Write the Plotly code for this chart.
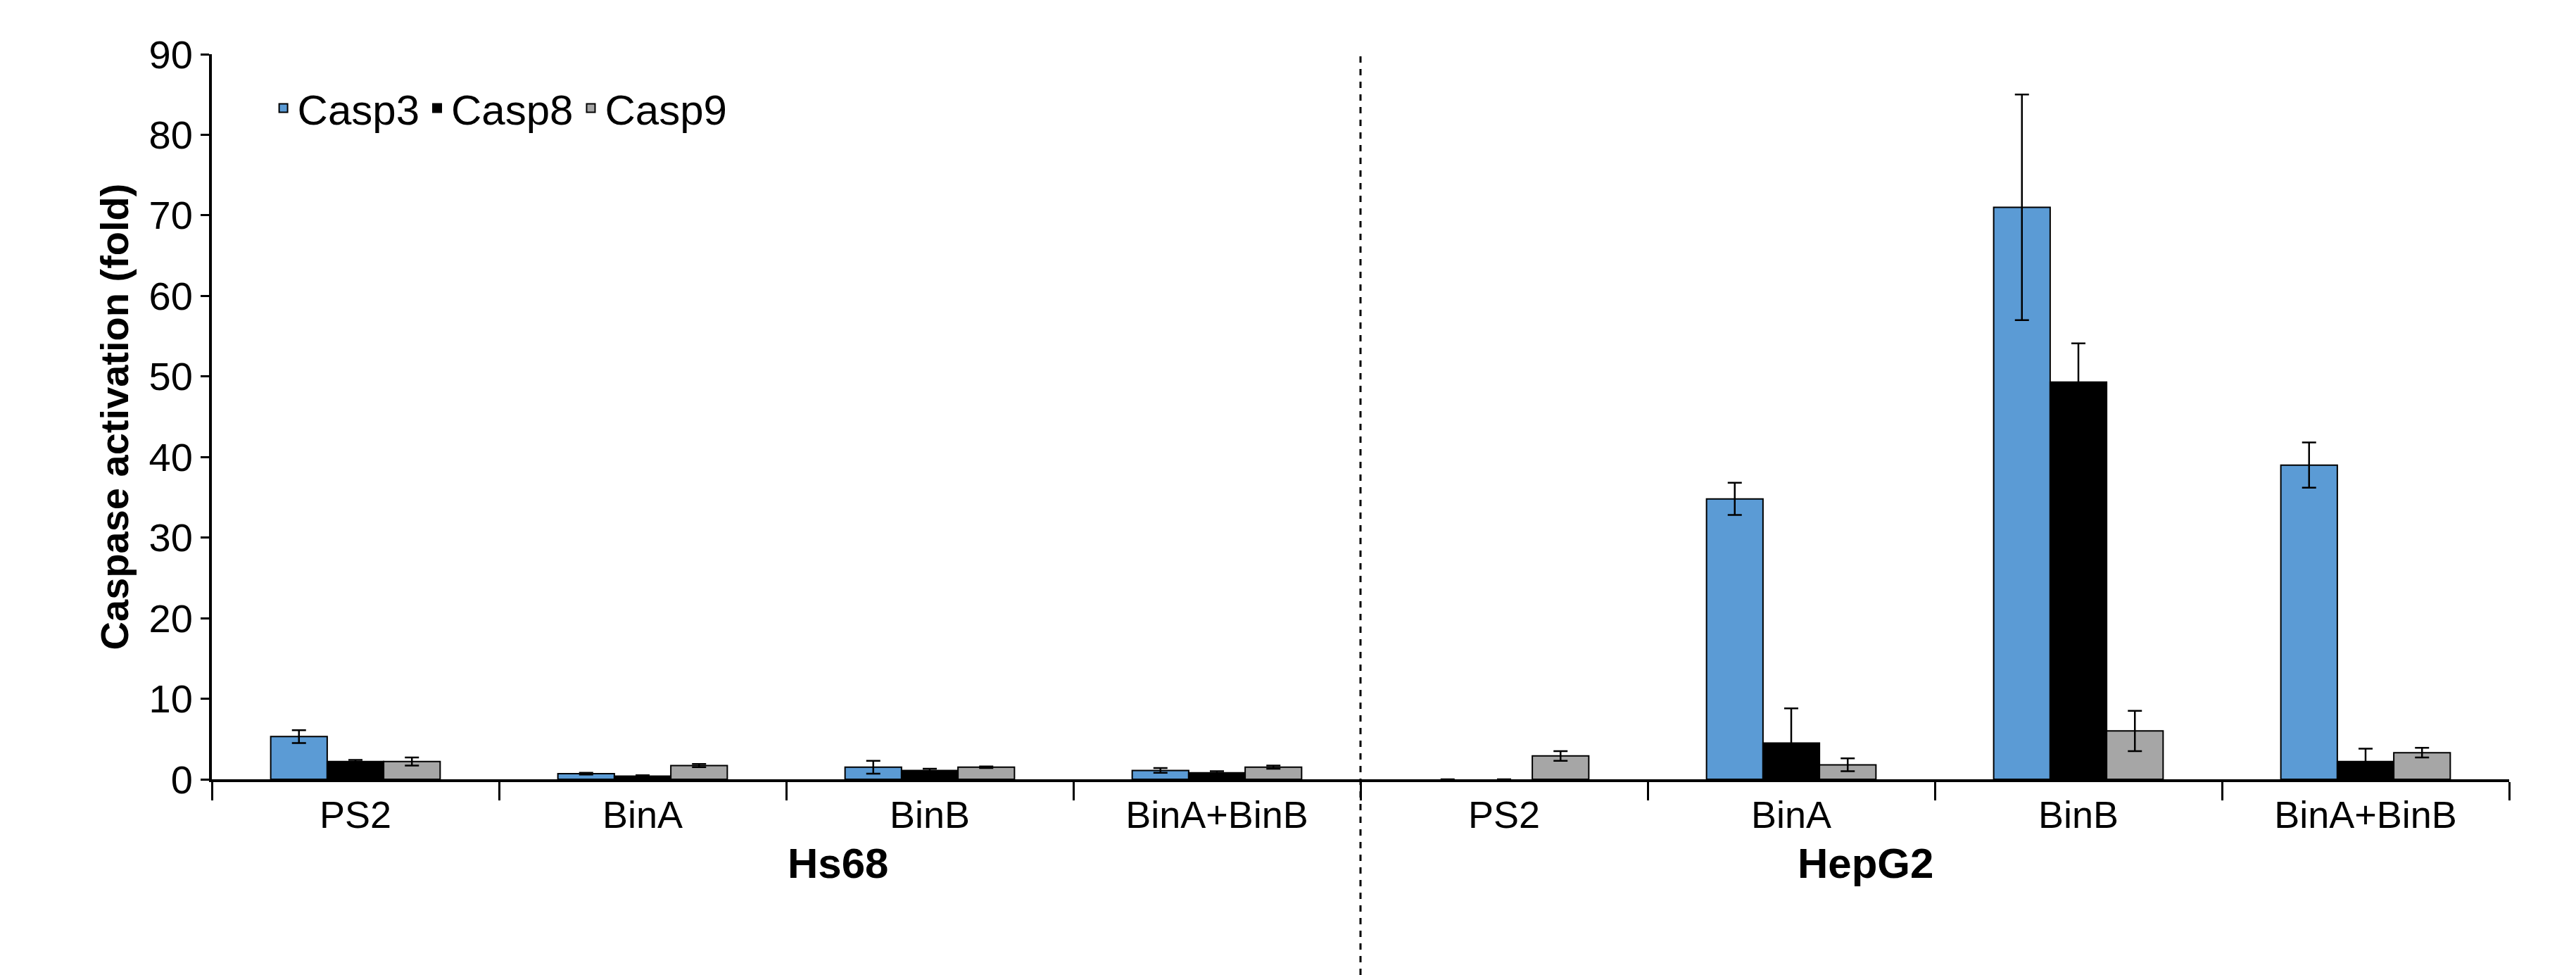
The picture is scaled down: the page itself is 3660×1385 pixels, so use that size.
import plotly.graph_objects as go

# Caspase activation (fold) per treatment, two cell lines
groups = ["Hs68", "HepG2"]
treatments = ["PS2", "BinA", "BinB", "BinA+BinB"]
x_keys = [f"{g}|{t}" for g in groups for t in treatments]

casp3 = [5.3, 0.7, 1.5, 1.1, 0.0, 34.8, 71.0, 39.0]
casp3_err = [0.8, 0.1, 0.8, 0.3, 0.0, 2.0, 14.0, 2.8]
casp8 = [2.2, 0.4, 1.1, 0.8, 0.0, 4.5, 49.3, 2.2]
casp8_err = [0.2, 0.1, 0.2, 0.2, 0.0, 4.3, 4.8, 1.6]
casp9 = [2.2, 1.7, 1.5, 1.5, 2.9, 1.8, 6.0, 3.3]
casp9_err = [0.5, 0.2, 0.1, 0.2, 0.6, 0.8, 2.5, 0.6]

series = [
    ("Casp3", casp3, casp3_err, "#5b9bd5"),
    ("Casp8", casp8, casp8_err, "#000000"),
    ("Casp9", casp9, casp9_err, "#a6a6a6"),
]

fig = go.Figure()
for name, vals, errs, col in series:
    fig.add_trace(go.Bar(
        x=x_keys, y=vals, name=name,
        marker=dict(color=col, line=dict(color="black",
                                         width=[2 if v > 0 else 0 for v in vals])),
        error_y=dict(type="data", array=errs, visible=True, color="black",
                     thickness=2.5, width=10),
    ))

font = "Liberation Sans, Arial, sans-serif"
fig.update_layout(
    width=3660, height=1385,
    plot_bgcolor="white", paper_bgcolor="white",
    barmode="group", bargap=0.41, bargroupgap=0,
    margin=dict(l=293, r=103, t=69, b=286),
    font=dict(family=font, size=56, color="black"),
    legend=dict(orientation="h", x=0.025, y=0.97, xanchor="left", yanchor="top",
                font=dict(size=60), bgcolor="rgba(0,0,0,0)"),
    showlegend=True,
)
fig.update_xaxes(
    tickvals=x_keys, ticktext=treatments * 2, tickson="boundaries",
    ticks="outside", ticklen=26, tickwidth=3, tickcolor="black",
    showline=True, linecolor="black", linewidth=4, showgrid=False,
    tickfont=dict(size=54),
)
fig.update_yaxes(
    range=[0, 90], dtick=10, ticks="outside", ticklen=12, tickwidth=3,
    tickcolor="black", showline=True, linecolor="black", linewidth=4,
    showgrid=False, zeroline=False, tickfont=dict(size=56),
    title=dict(text="<b>Caspase activation (fold)</b>", font=dict(size=56), standoff=12),
)

# group labels under the treatments
for i, g in enumerate(groups):
    fig.add_annotation(x=0.25 + 0.5 * i, y=-0.15, xref="paper", yref="paper",
                       text=f"<b>{g}</b>", showarrow=False, font=dict(size=60))

# dashed divider between cell lines
fig.add_shape(type="line", xref="paper", yref="paper", x0=0.5, x1=0.5,
              y0=-0.27, y1=1.0, line=dict(color="black", width=3, dash="dash"))

fig.write_html("out.html")
